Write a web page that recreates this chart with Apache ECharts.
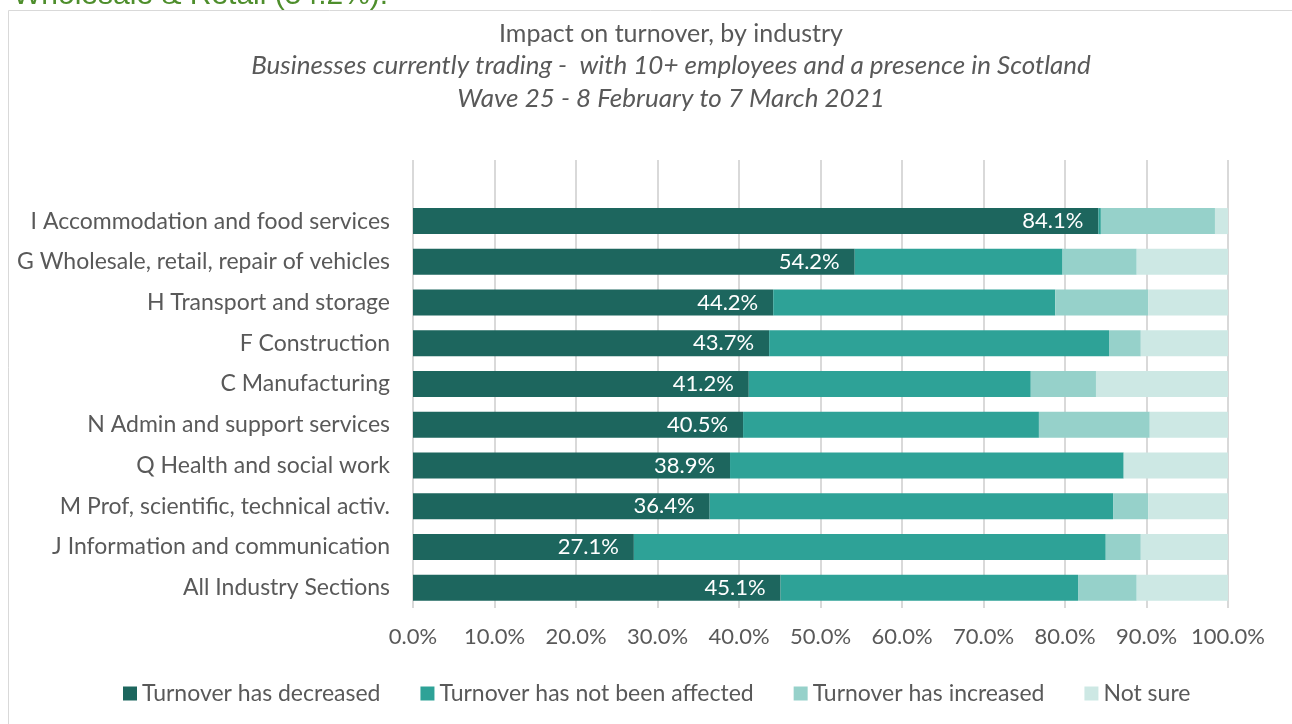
<!DOCTYPE html>
<html><head><meta charset="utf-8">
<script src="https://cdn.jsdelivr.net/npm/echarts@6/dist/echarts.min.js"></script>
<style>html,body{margin:0;padding:0;background:#fff}#c{width:1292px;height:724px}</style>
</head><body><div id="c"></div>
<script>
const categories = ['I Accommodation and food services','G Wholesale, retail, repair of vehicles','H Transport and storage','F Construction','C Manufacturing','N Admin and support services','Q Health and social work','M Prof, scientific, technical activ.','J Information and communication','All Industry Sections'];
const decreased   = [84.1, 54.2, 44.2, 43.7, 41.2, 40.5, 38.9, 36.4, 27.1, 45.1];
const notAffected = [0.3, 25.5, 34.6, 41.7, 34.6, 36.3, 48.3, 49.5, 57.9, 36.5];
const increased   = [14.0, 9.1, 11.4, 3.9, 8.0, 13.6, 0, 4.3, 4.3, 7.2];
const notSure     = [1.6, 11.2, 9.8, 10.7, 16.2, 9.6, 12.8, 9.8, 10.7, 11.2];
const xTicks = [0,10,20,30,40,50,60,70,80,90,100];
const seriesNames = ['Turnover has decreased','Turnover has not been affected','Turnover has increased','Not sure'];
const colors = ['#1d665e','#2ea297','#96d1ca','#cde8e4'];

const FONT = 'Lato';
const TXT = '#595959';
const cats = [''].concat(categories);
const pad = arr => [null].concat(arr);

const chart = echarts.init(document.getElementById('c'));
chart.setOption({
  animation: false,
  textStyle: {fontFamily: FONT},
  graphic: [
    {type:'rect', shape:{x:8.5, y:10.5, width:1400, height:800}, style:{fill:'none', stroke:'#d9d9d9', lineWidth:1}},
    {type:'text', left:13, top:-19, style:{text:'Wholesale & Retail (54.2%).', font:'30px "Liberation Sans"', fill:'#4e8e2c'}}
  ],
  title: {
    text: 'Impact on turnover, by industry',
    subtext: 'Businesses currently trading -  with 10+ employees and a presence in Scotland\nWave 25 - 8 February to 7 March 2021',
    left: 666, textAlign: 'center', top: 16, itemGap: 3,
    textStyle: {fontFamily: FONT, fontSize: 25, fontWeight: 'normal', color: TXT},
    subtextStyle: {fontFamily: FONT, fontSize: 26, fontStyle: 'italic', color: TXT, lineHeight: 33}
  },
  legend: {
    data: seriesNames, bottom: 14, left: 118, icon: 'rect', itemWidth: 14, itemHeight: 14, itemGap: 40,
    textStyle: {fontFamily: FONT, fontSize: 23, color: TXT}
  },
  grid: {left: 413, right: 64, top: 160, bottom: 116, containLabel: false},
  xAxis: {
    type: 'value', min: xTicks[0], max: xTicks[xTicks.length-1], interval: 10,
    axisLine: {show:false}, axisTick: {show:false},
    splitLine: {lineStyle: {color:'#d9d9d9', width: 2}},
    axisLabel: {formatter: v => v.toFixed(1) + '%', fontFamily: FONT, fontSize: 22, color: TXT, margin: 18}
  },
  yAxis: {
    type: 'category', data: cats, inverse: true,
    axisLine: {show:false}, axisTick: {show:false}, splitLine: {show:false},
    axisLabel: {fontFamily: FONT, fontSize: 23, color: TXT, margin: 23}
  },
  series: [decreased, notAffected, increased, notSure].map((d, i) => ({
    name: seriesNames[i], type: 'bar', stack: 'all', barWidth: 26,
    data: pad(d), itemStyle: {color: colors[i]},
    label: i === 0 ? {show: true, position: 'insideRight', distance: 15, formatter: p => p.value.toFixed(1) + '%', color: '#fff', fontFamily: FONT, fontSize: 22} : {show:false}
  }))
});
</script></body></html>
